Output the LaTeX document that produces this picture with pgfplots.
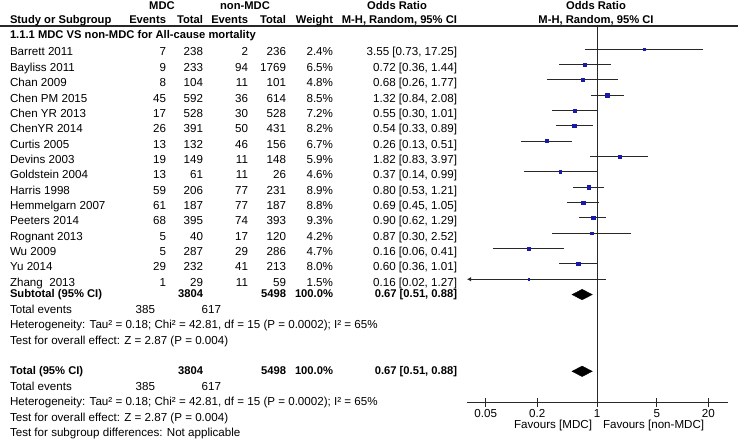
\documentclass[border=0pt]{standalone}
\usepackage{fontspec}
\setmainfont{Liberation Sans}
\usepackage{pgfplots}
\usepackage{pgfplotstable}
\pgfplotsset{compat=1.18}
\usetikzlibrary{arrows.meta}
\definecolor{sq}{RGB}{25,25,170}
\definecolor{ln}{RGB}{40,40,40}

\pgfplotstableread{
r or lo hi w
1 3.55 0.73 17.25 2.4
2 0.72 0.36 1.44 6.5
3 0.68 0.26 1.77 4.8
4 1.32 0.84 2.08 8.5
5 0.55 0.30 1.01 7.2
6 0.54 0.33 0.89 8.2
7 0.26 0.13 0.51 6.7
8 1.82 0.83 3.97 5.9
9 0.37 0.14 0.99 4.6
10 0.80 0.53 1.21 8.9
11 0.69 0.45 1.05 8.8
12 0.90 0.62 1.29 9.3
13 0.87 0.30 2.52 4.2
14 0.16 0.06 0.41 4.7
15 0.60 0.36 1.01 8.0
16 0.16 0.02 1.27 1.5
}\studies

\newcommand\nf{\fontsize{11.6}{13}\selectfont}
\newcommand\bfn{\fontsize{11.2}{13}\selectfont\bfseries}
\newcommand\yy[1]{{-(56+15.35*(#1-1))*1pt}}
\newcommand\study[8]{%
  \node[L] at (10pt,\yy{#1}) {#2};
  \node[R] at (166pt,\yy{#1}) {#3};
  \node[R] at (203pt,\yy{#1}) {#4};
  \node[R] at (248pt,\yy{#1}) {#5};
  \node[R] at (286pt,\yy{#1}) {#6};
  \node[R] at (333pt,\yy{#1}) {#7};
  \node[R] at (457pt,\yy{#1}) {#8};}

\begin{document}
\begin{tikzpicture}[every node/.style={inner sep=0pt, outer sep=0pt, font=\nf},
  L/.style={anchor=base west}, R/.style={anchor=base east}, C/.style={anchor=base}]
\useasboundingbox (0pt,0pt) rectangle (738pt,-441pt);

\begin{axis}[
  at={(467pt,-402pt)}, anchor=south west,
  width=261pt, height=376pt, scale only axis,
  xmode=log, xmin=0.0302, xmax=34,
  ymin=-0.5, ymax=24, y dir=reverse,
  axis y line=none, axis x line*=bottom,
  axis line style={ln, line width=1pt},
  xtick={0.05,0.2,1,5,20},
  xticklabels={\mbox{0.05},\mbox{0.2},\mbox{1},\mbox{5},\mbox{20}},
  xticklabel style={font=\nf, anchor=base, yshift=-10.5pt},
  minor xtick={},
  major tick length=9pt, tick align=center,
  tick style={ln, line width=1pt},
  ytick=\empty,
  clip=false,
]
% line of no effect
\addplot[ln, line width=1pt] coordinates {(1,-0.5) (1,24)};
% confidence intervals
\addplot[ln, line width=0.9pt, unbounded coords=jump] table[row sep=\\] {
x y\\
0.73 1\\ 17.25 1\\ nan nan\\
0.36 2\\ 1.44 2\\ nan nan\\
0.26 3\\ 1.77 3\\ nan nan\\
0.84 4\\ 2.08 4\\ nan nan\\
0.30 5\\ 1.01 5\\ nan nan\\
0.33 6\\ 0.89 6\\ nan nan\\
0.13 7\\ 0.51 7\\ nan nan\\
0.83 8\\ 3.97 8\\ nan nan\\
0.14 9\\ 0.99 9\\ nan nan\\
0.53 10\\ 1.21 10\\ nan nan\\
0.45 11\\ 1.05 11\\ nan nan\\
0.62 12\\ 1.29 12\\ nan nan\\
0.30 13\\ 2.52 13\\ nan nan\\
0.06 14\\ 0.41 14\\ nan nan\\
0.36 15\\ 1.01 15\\
};
\addplot[ln, line width=0.9pt, -{Latex[length=4pt,width=4.5pt]}] coordinates {(1.27,16) (0.0302,16)};
% study squares
\addplot[only marks, mark=square*, scatter, scatter/use mapped color={draw=sq, fill=sq},
  visualization depends on={0.6*sqrt(\thisrow{w}) \as \ms},
  scatter/@pre marker code/.append style={/tikz/mark size=\ms}]
  table[x=or, y=r] \studies;
% pooled diamonds
\addplot[fill=black, draw=black] coordinates {(0.51,17) (0.67,16.66) (0.88,17) (0.67,17.34)} -- cycle;
\addplot[fill=black, draw=black] coordinates {(0.51,22) (0.67,21.66) (0.88,22) (0.67,22.34)} -- cycle;
\end{axis}

% header
\draw[ln, line width=1.4pt] (0pt,-26pt) -- (738pt,-26pt);
\node[C, font=\bfn] at (162pt,-9.5pt) {MDC};
\node[C, font=\bfn] at (245pt,-9.5pt) {non-MDC};
\node[C, font=\bfn] at (397pt,-9.5pt) {Odds Ratio};
\node[C, font=\bfn] at (596pt,-9.5pt) {Odds Ratio};
\node[L, font=\bfn] at (10pt,-24pt) {Study or Subgroup};
\node[R, font=\bfn] at (166pt,-24pt) {Events};
\node[R, font=\bfn] at (203pt,-24pt) {Total};
\node[R, font=\bfn] at (248pt,-24pt) {Events};
\node[R, font=\bfn] at (286pt,-24pt) {Total};
\node[R, font=\bfn] at (333pt,-24pt) {Weight};
\node[R, font=\bfn] at (457pt,-24pt) {M-H, Random, 95\% CI};
\node[C, font=\bfn] at (596pt,-24pt) {M-H, Random, 95\% CI};
\node[L, font=\bfn] at (10pt,-39pt) {1.1.1 MDC VS non-MDC for All-cause mortality};

% studies
\study{1}{Barrett 2011}{7}{238}{2}{236}{2.4\%}{3.55 [0.73, 17.25]}
\study{2}{Bayliss 2011}{9}{233}{94}{1769}{6.5\%}{0.72 [0.36, 1.44]}
\study{3}{Chan 2009}{8}{104}{11}{101}{4.8\%}{0.68 [0.26, 1.77]}
\study{4}{Chen PM 2015}{45}{592}{36}{614}{8.5\%}{1.32 [0.84, 2.08]}
\study{5}{Chen YR 2013}{17}{528}{30}{528}{7.2\%}{0.55 [0.30, 1.01]}
\study{6}{ChenYR 2014}{26}{391}{50}{431}{8.2\%}{0.54 [0.33, 0.89]}
\study{7}{Curtis 2005}{13}{132}{46}{156}{6.7\%}{0.26 [0.13, 0.51]}
\study{8}{Devins 2003}{19}{149}{11}{148}{5.9\%}{1.82 [0.83, 3.97]}
\study{9}{Goldstein 2004}{13}{61}{11}{26}{4.6\%}{0.37 [0.14, 0.99]}
\study{10}{Harris 1998}{59}{206}{77}{231}{8.9\%}{0.80 [0.53, 1.21]}
\study{11}{Hemmelgarn 2007}{61}{187}{77}{187}{8.8\%}{0.69 [0.45, 1.05]}
\study{12}{Peeters 2014}{68}{395}{74}{393}{9.3\%}{0.90 [0.62, 1.29]}
\study{13}{Rognant 2013}{5}{40}{17}{120}{4.2\%}{0.87 [0.30, 2.52]}
\study{14}{Wu 2009}{5}{287}{29}{286}{4.7\%}{0.16 [0.06, 0.41]}
\study{15}{Yu 2014}{29}{232}{41}{213}{8.0\%}{0.60 [0.36, 1.01]}
\study{16}{Zhang\ \ 2013}{1}{29}{11}{59}{1.5\%}{0.16 [0.02, 1.27]}

% subtotal
\node[L, font=\bfn] at (10pt,-297.7pt) {Subtotal (95\% CI)};
\node[R, font=\bfn] at (203pt,-297.7pt) {3804};
\node[R, font=\bfn] at (286pt,-297.7pt) {5498};
\node[R, font=\bfn] at (333pt,-297.7pt) {100.0\%};
\node[R, font=\bfn] at (457pt,-297.7pt) {0.67 [0.51, 0.88]};
\node[L] at (10pt,-313.3pt) {Total events};
\node[R] at (155pt,-313.3pt) {385};
\node[R] at (221pt,-313.3pt) {617};
\node[L] at (10pt,-328.3pt) {Heterogeneity: Tau² = 0.18; Chi² = 42.81, df = 15 (P = 0.0002); I² = 65\%};
\node[L] at (10pt,-344.3pt) {Test for overall effect: Z = 2.87 (P = 0.004)};

% total
\node[L, font=\bfn] at (10pt,-374pt) {Total (95\% CI)};
\node[R, font=\bfn] at (203pt,-374pt) {3804};
\node[R, font=\bfn] at (286pt,-374pt) {5498};
\node[R, font=\bfn] at (333pt,-374pt) {100.0\%};
\node[R, font=\bfn] at (457pt,-374pt) {0.67 [0.51, 0.88]};
\node[L] at (10pt,-390pt) {Total events};
\node[R] at (155pt,-390pt) {385};
\node[R] at (221pt,-390pt) {617};
\node[L] at (10pt,-405pt) {Heterogeneity: Tau² = 0.18; Chi² = 42.81, df = 15 (P = 0.0002); I² = 65\%};
\node[L] at (10pt,-421pt) {Test for overall effect: Z = 2.87 (P = 0.004)};
\node[L] at (10pt,-436pt) {Test for subgroup differences: Not applicable};

% favours
\node[R] at (592pt,-428.8pt) {Favours [MDC]};
\node[L] at (603pt,-428.8pt) {Favours [non-MDC]};
\end{tikzpicture}
\end{document}
